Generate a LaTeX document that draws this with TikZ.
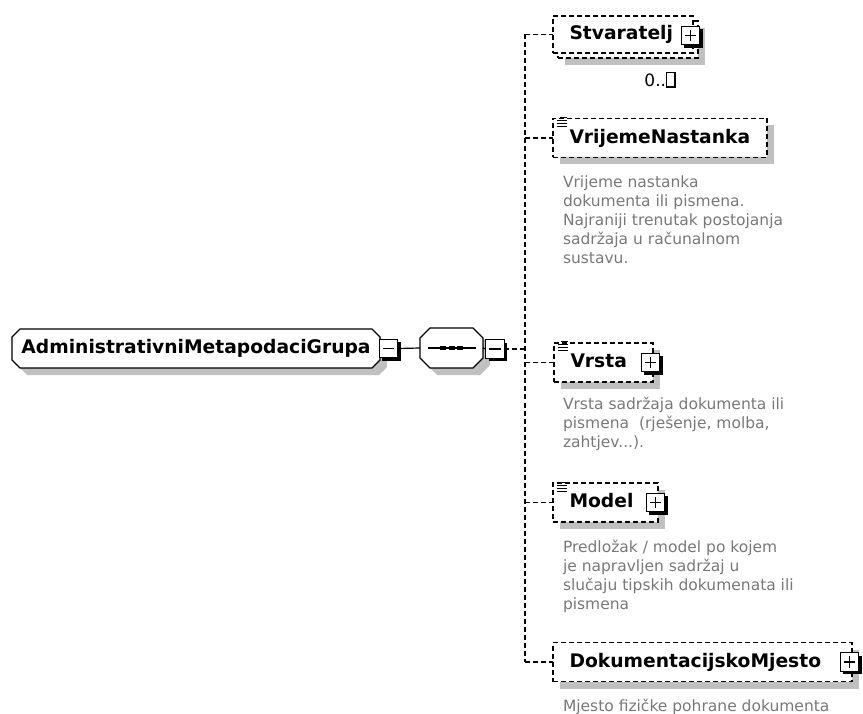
\documentclass[tikz,border=0pt]{standalone}
\usepackage{fontspec}
\setmainfont{DejaVu Sans}
\usetikzlibrary{calc,shadows,backgrounds}

\definecolor{shadegray}{RGB}{192,192,192}
\definecolor{notegray}{RGB}{120,120,120}

% outline of a box with cut corners around node #1; #2 = cut, #3 = offset
\newcommand\cutbox[3]{%
  ($(#1.north west)+(#2+#3,#3)$) -- ($(#1.north east)+(-#2+#3,#3)$) --
  ($(#1.north east)+(#3,#2+#3)$) -- ($(#1.south east)+(#3,-#2+#3)$) --
  ($(#1.south east)+(-#2+#3,#3)$) -- ($(#1.south west)+(#2+#3,#3)$) --
  ($(#1.south west)+(#3,-#2+#3)$) -- ($(#1.north west)+(#3,#2+#3)$) -- cycle}

% small "documentation" mark in the upper left corner of an element box
\newcommand\docmark[1]{%
  \draw[line width=1pt]
    ([shift={(7,-1)}]#1.north west) -- ++(7,0)
    ([shift={(4,2)}]#1.north west) -- ++(10,0)
    ([shift={(4,5)}]#1.north west) -- ++(10,0)
    ([shift={(4,8)}]#1.north west) -- ++(10,0);}

\tikzset{
  every node/.style={inner sep=0pt, outer sep=0pt},
  titlefont/.style={font=\bfseries\fontsize{18.7}{22}\selectfont, text height=13.7pt, text depth=3pt},
  link/.style={line width=1.2pt, dash pattern=on 5pt off 3pt},
  wire/.style={line width=1.2pt},
  groupnode/.style={titlefont, minimum height=39pt},
  elembox/.style={draw, line width=1.2pt, dash pattern=on 5pt off 3pt, fill=white,
    titlefont, inner xsep=16.5pt, align=left, minimum height=39pt, anchor=west},
  boxshadow/.style={drop shadow={shadow xshift=7pt, shadow yshift=-7pt, fill=shadegray, opacity=1}},
  toggle/.style={draw, solid, line width=1.4pt, fill=white, minimum size=18.5pt,
    drop shadow={shadow xshift=3pt, shadow yshift=-3pt, fill=black, opacity=1}},
  minusbox/.style={toggle, path picture={
    \draw[line width=1.6pt] ([xshift=3.5pt]path picture bounding box.west) -- ([xshift=-3.5pt]path picture bounding box.east);}},
  plusbox/.style={toggle, path picture={
    \draw[line width=1.6pt] ([xshift=3.5pt]path picture bounding box.west) -- ([xshift=-3.5pt]path picture bounding box.east);
    \draw[line width=1.6pt] ([yshift=-3.5pt]path picture bounding box.north) -- ([yshift=3.5pt]path picture bounding box.south);}},
  note/.style={text=notegray, font=\fontsize{15.5}{19}\selectfont, align=left, anchor=north west},
}

\begin{document}
\begin{tikzpicture}[x=1pt, y=-1pt]
\useasboundingbox (0,0) rectangle (863,714);

% group and sequence compositor
\node[groupnode, minimum width=368pt] (grp) at (196,348.5) {AdministrativniMetapodaciGrupa};
\node[minusbox] (fold) at (388.5,348.5) {};
\node[minimum width=63pt, minimum height=40pt] (seq) at (451.5,348) {};
\node[minusbox] (seqfold) at (495,349) {};
\coordinate (trunk) at (525,349);

\begin{scope}[on background layer]
  \fill[shadegray] \cutbox{grp}{8}{7};
  \filldraw[wire, fill=white] \cutbox{grp}{8}{0};
  \fill[shadegray] \cutbox{seq}{10}{7};
  \filldraw[wire, fill=white] \cutbox{seq}{10}{0};
\end{scope}

% sequence symbol
\draw[wire] ([xshift=8pt]seq.west) -- ([xshift=-7pt]seq.east);
\foreach \dx in {-8.5,0,8.5}
  \fill ([xshift=\dx pt]seq.center) +(-3,-2) rectangle +(3,2);

% child elements
\node[elembox, boxshadow, minimum width=140pt, minimum height=37pt] (stvback) at (558,39.5) {};
\node[elembox, text width=107pt, minimum height=37pt] (stv) at (553,34.5) {Stvaratelj};
\node[plusbox] (stvplus) at ([shift={(-2.5,1)}]stv.east) {};
\node[font=\fontsize{17}{20}\selectfont] (stvcount) at (660,80)
  {0..\fboxsep=0pt\fboxrule=1.2pt\fbox{\rule{0pt}{13pt}\hspace{7pt}}};

\node[elembox, boxshadow, text width=181pt] (vrij) at (553,138) {VrijemeNastanka};
\docmark{vrij}
\node[note] (vrijnote) at (563,175.5) {Vrijeme nastanka\\dokumenta ili pismena.\\Najraniji trenutak postojanja\\sadržaja u računalnom\\sustavu.};

\node[elembox, boxshadow, text width=66pt] (vrs) at (554,362.5) {Vrsta};
\docmark{vrs}
\node[plusbox] (vrsplus) at ([shift={(-2.5,0)}]vrs.east) {};
\node[note] (vrsnote) at (563,397.5) {Vrsta sadržaja dokumenta ili\\pismena~ (rješenje, molba,\\zahtjev...).};

\node[elembox, boxshadow, text width=72pt] (mod) at (553,502.5) {Model};
\docmark{mod}
\node[plusbox] (modplus) at ([shift={(-2.5,0)}]mod.east) {};
\node[note] (modnote) at (563,540.5) {Predložak / model po kojem\\je napravljen sadržaj u\\slučaju tipskih dokumenata ili\\pismena};

\node[elembox, boxshadow, text width=266pt] (dok) at (553,662) {DokumentacijskoMjesto};
\node[plusbox] (dokplus) at ([shift={(-2.5,0)}]dok.east) {};
\node[note] (doknote) at (563,699.5) {Mjesto fizičke pohrane dokumenta};

% connectors
\draw[wire] (grp.east) -- (fold.west);
\draw[wire] (fold.east) -- (seq.west);
\draw[wire] (seq.east) -- (seqfold.west);
\draw[link] (seqfold.east) -- (trunk);
\draw[link] (trunk |- stv.west) -- (trunk |- dok.west);
\foreach \n in {stv,vrij,vrs,mod,dok}
  \draw[link] (trunk |- \n.west) -- (\n.west);
\end{tikzpicture}
\end{document}
